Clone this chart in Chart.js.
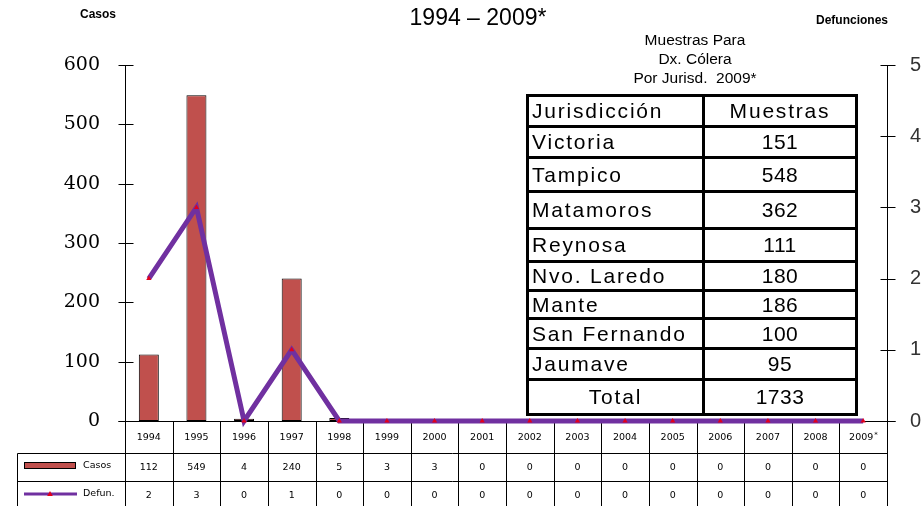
<!DOCTYPE html>
<html><head><meta charset="utf-8">
<script src="https://cdn.jsdelivr.net/npm/chart.js@4/dist/chart.umd.min.js"></script>
<style>
html,body{margin:0;padding:0;background:#fff;}
#wrap{position:relative;width:923px;height:506px;overflow:hidden;background:#fff;}
#c{position:absolute;left:0;top:0;}
.t{position:absolute;white-space:nowrap;color:#000;}
#title{left:378px;top:4px;width:200px;text-align:center;font:23px "Liberation Sans",Arial,sans-serif;line-height:26px;}
#lcasos{left:80px;top:7px;font:bold 12px "Liberation Sans",Arial,sans-serif;}
#ldef{left:816px;top:13px;font:bold 12px "Liberation Sans",Arial,sans-serif;}
#mtitle{left:595px;top:30px;width:200px;text-align:center;font:15.5px "Liberation Sans",Arial,sans-serif;line-height:19px;}
#inset{position:absolute;left:526px;top:94px;width:332px;border-collapse:collapse;font:21px "Liberation Sans",Arial,sans-serif;letter-spacing:1.8px;background:#fff;}
#inset td{border:3px solid #000;padding:0 0 0 3px;line-height:18px;}
#inset td.n{text-align:center;padding:0;letter-spacing:0.5px;}
</style></head><body>
<div id="wrap">
<canvas id="c" width="923" height="506"></canvas>
<div class="t" id="title">1994 – 2009*</div>
<div class="t" id="lcasos">Casos</div>
<div class="t" id="ldef">Defunciones</div>
<div class="t" id="mtitle">Muestras Para<br>Dx. Cólera<br>Por Jurisd.&nbsp; 2009*</div>
<table id="inset"></table>
</div>
<script>
// ---- data ----
const years = ['1994','1995','1996','1997','1998','1999','2000','2001','2002','2003','2004','2005','2006','2007','2008','2009*'];
const casos = [112,549,4,240,5,3,3,0,0,0,0,0,0,0,0,0];
const defun = [2,3,0,1,0,0,0,0,0,0,0,0,0,0,0,0];
const casosTicks = [0,100,200,300,400,500,600];
const defunTicks = [0,1,2,3,4,5];
const seriesNames = ['Casos','Defun.'];
const jurisdicciones = ['Victoria','Tampico','Matamoros','Reynosa','Nvo. Laredo','Mante','San Fernando','Jaumave'];
const muestras = [151,548,362,111,180,186,100,95];
const totalMuestras = 1733;

// ---- inset table (HTML) ----
const rowH = [31,31,34,37,33,29,28,30,31,35];
(function(){
  const tb = document.getElementById('inset');
  let html = '<tr style="height:'+rowH[0]+'px"><td style="width:170px">Jurisdicción</td><td class="n" style="letter-spacing:1.8px">Muestras</td></tr>';
  jurisdicciones.forEach((j,i)=>{
    html += '<tr style="height:'+rowH[i+1]+'px"><td>'+j+'</td><td class="n">'+muestras[i]+'</td></tr>';
  });
  html += '<tr style="height:'+rowH[9]+'px"><td class="n" style="letter-spacing:1.8px">Total</td><td class="n">'+totalMuestras+'</td></tr>';
  tb.innerHTML = html;
})();

const RED = '#C0504D', PURPLE = '#7030A0', MARK = '#E3001B';

function ln(ctx,x1,y1,x2,y2){ctx.beginPath();ctx.moveTo(x1,y1);ctx.lineTo(x2,y2);ctx.stroke();}
function tri(ctx,x,y,r){ctx.beginPath();ctx.moveTo(x,y-r);ctx.lineTo(x+r*0.95,y+r*0.65);ctx.lineTo(x-r*0.95,y+r*0.65);ctx.closePath();ctx.fill();}

const framePlugin = {
  id:'frame',
  beforeDatasetsDraw(chart){
    const {ctx, chartArea:a, scales} = chart;
    const y = scales.y, y1 = scales.y1, x = scales.x;
    const H = chart.height;
    ctx.save();
    ctx.strokeStyle = '#000'; ctx.lineWidth = 1;
    ctx.translate(0.5,0.5);
    const L = Math.round(a.left), R = Math.round(a.right), B = Math.round(a.bottom), T = Math.round(a.top);
    ln(ctx,L,T,L,H);
    ln(ctx,R,T,R,H);
    ln(ctx,L-7,B,R+8,B);
    y.ticks.forEach(t=>{const p=Math.round(y.getPixelForValue(t.value)); ln(ctx,L-7,p,L+8,p);});
    y1.ticks.forEach(t=>{const p=Math.round(y1.getPixelForValue(t.value)); ln(ctx,R-7,p,R+8,p);});
    // data table grid
    const r1 = B+32, r2 = B+60, r3 = H+2;
    const leftCol = 17;
    ln(ctx,leftCol,r1,R,r1);
    ln(ctx,leftCol,r2,R,r2);
    ln(ctx,leftCol,r3-2,R,r3-2);
    ln(ctx,leftCol,r1,leftCol,H);
    const n = years.length;
    const w = (a.right-a.left)/n;
    for(let i=1;i<n;i++){const px=Math.round(a.left+w*i); ln(ctx,px,B,px,H);}
    ctx.restore();

    // texts
    ctx.save();
    ctx.fillStyle='#000';
    ctx.font='9.5px "DejaVu Sans", Verdana, sans-serif';
    ctx.textAlign='center'; ctx.textBaseline='middle';
    years.forEach((yr,i)=>{
      const cx = x.getPixelForValue(i);
      if(yr.endsWith('*')){
        const base = yr.slice(0,-1);
        const bw = ctx.measureText(base).width;
        ctx.fillText(base, cx-2, B+17);
        ctx.font='7px "DejaVu Sans", sans-serif';
        ctx.textAlign='left';
        ctx.fillText('*', cx-2+bw/2+1, B+14);
        ctx.textAlign='center';
        ctx.font='9.5px "DejaVu Sans", Verdana, sans-serif';
      } else ctx.fillText(yr, cx, B+17);
      ctx.fillText(String(casos[i]), cx, B+47);
      ctx.fillText(String(defun[i]), cx, B+75);
    });
    // legend keys
    ctx.textAlign='left';
    ctx.fillText(seriesNames[0], 83, B+45);
    ctx.fillText(seriesNames[1], 83, B+73);
    ctx.fillStyle=RED; ctx.fillRect(24,B+41,51,7);
    ctx.strokeStyle='#000'; ctx.lineWidth=1; ctx.strokeRect(24.5,B+41.5,51,6);
    ctx.strokeStyle=PURPLE; ctx.lineWidth=3;
    ln(ctx,24,B+73,77,B+73);
    ctx.fillStyle=MARK; tri(ctx,50,B+73,3);
    ctx.restore();
  }
};

new Chart(document.getElementById('c'),{
  data:{
    labels: years,
    datasets:[
      {type:'line', label:seriesNames[1], data:defun, yAxisID:'y1', order:0,
       borderColor:PURPLE, borderWidth:5, tension:0, clip:false,
       pointStyle:'triangle', pointRadius:3, pointBackgroundColor:MARK, pointBorderColor:MARK, pointBorderWidth:0},
      {type:'bar', label:seriesNames[0], data:casos, yAxisID:'y', order:1,
       backgroundColor:RED, borderColor:'#000', borderWidth:1, borderSkipped:false,
       barPercentage:0.42, categoryPercentage:1}
    ]
  },
  options:{
    responsive:false, animation:false, devicePixelRatio:1,
    layout:{padding:{top:65,bottom:85,left:0,right:0}},
    plugins:{legend:{display:false},tooltip:{enabled:false}},
    scales:{
      x:{type:'category', display:false, offset:true},
      y:{position:'left', min:0, max:600, 
         afterBuildTicks(s){s.ticks = casosTicks.map(v=>({value:v}));},
         afterFit(s){s.width=125;},
         grid:{display:false, drawTicks:false}, border:{display:false},
         ticks:{padding:25, color:'#000', font:{family:'"DejaVu Serif", serif', size:19}}},
      y1:{position:'right', min:0, max:5,
         afterBuildTicks(s){s.ticks = defunTicks.map(v=>({value:v}));},
         afterFit(s){s.width=36;},
         grid:{display:false, drawTicks:false}, border:{display:false},
         ticks:{padding:23, color:'#333', font:{family:'"Liberation Sans", Arial, sans-serif', size:20}}}
    }
  },
  plugins:[framePlugin]
});
</script>
</body></html>
